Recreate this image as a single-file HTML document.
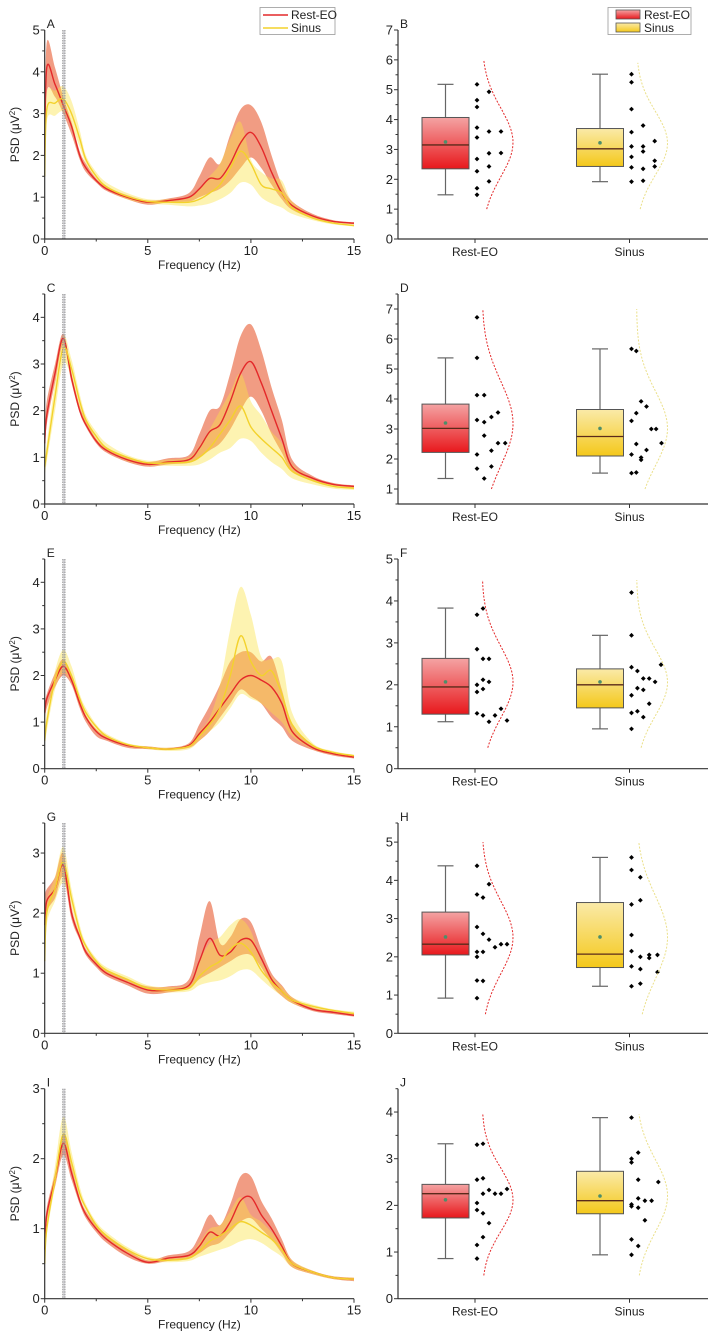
<!DOCTYPE html>
<html><head><meta charset="utf-8"><style>
html,body{margin:0;padding:0;background:#fff;}
svg{display:block;font-family:"Liberation Sans",Arial,sans-serif;}
</style></head><body>
<svg id="fig" width="716" height="1343" viewBox="0 0 716 1343" xmlns="http://www.w3.org/2000/svg">
<defs>
<linearGradient id="gRest" x1="0" y1="0" x2="0" y2="1"><stop offset="0" stop-color="#f4a3a3"/><stop offset="1" stop-color="#e8181c"/></linearGradient>
<linearGradient id="gSinus" x1="0" y1="0" x2="0" y2="1"><stop offset="0" stop-color="#faeaa8"/><stop offset="1" stop-color="#f4c81a"/></linearGradient>
</defs>
</svg>
<script>
const FREQ=[0,0.1,0.5,0.9,1.3,1.7,2,2.5,3,4,5,6,7,7.5,8,8.5,9,9.5,10,10.5,11,11.5,12,13,14,15];
// Panel A
const A_REST_MEAN=[2.0,4.1,3.7,3.2,2.7,2.0,1.7,1.4,1.2,1.0,0.88,0.92,1.0,1.2,1.45,1.45,1.8,2.3,2.55,2.2,1.6,1.1,0.8,0.55,0.42,0.38];
const A_REST_UP=[2.5,4.7,4.1,3.4,2.8,2.1,1.8,1.45,1.25,1.05,0.92,0.97,1.1,1.5,1.95,1.8,2.5,3.1,3.2,2.8,2.0,1.3,0.9,0.6,0.45,0.4];
const A_REST_LO=[1.5,3.5,3.4,3.0,2.5,1.9,1.6,1.35,1.15,0.95,0.82,0.88,0.9,1.0,1.1,1.2,1.4,1.7,1.95,1.7,1.3,0.95,0.7,0.5,0.4,0.35];
const A_SIN_MEAN=[1.5,3.1,3.25,3.35,3.0,2.4,1.9,1.5,1.25,1.02,0.9,0.88,0.88,0.95,1.1,1.3,1.7,2.1,1.8,1.3,1.2,1.1,0.75,0.5,0.38,0.32];
const A_SIN_UP=[2.0,3.5,3.55,3.65,3.3,2.6,2.0,1.6,1.35,1.1,0.95,0.95,1.0,1.2,1.5,1.8,2.4,2.8,1.9,1.6,1.45,1.4,0.9,0.55,0.42,0.35];
const A_SIN_LO=[1.0,2.8,2.95,3.05,2.7,2.2,1.8,1.45,1.2,0.95,0.85,0.82,0.78,0.8,0.85,0.95,1.1,1.35,1.3,1.0,0.85,0.75,0.6,0.45,0.35,0.3];
// Panel C
const C_REST_MEAN=[1.3,1.9,2.8,3.55,2.7,2.0,1.7,1.35,1.15,0.95,0.85,0.9,0.95,1.2,1.55,1.7,2.2,2.8,3.05,2.6,2.0,1.4,0.8,0.55,0.42,0.38];
const C_REST_UP=[1.6,2.2,3.0,3.65,2.8,2.1,1.8,1.4,1.2,1.0,0.9,0.98,1.05,1.5,2.0,2.1,2.8,3.6,3.85,3.3,2.5,1.8,0.95,0.6,0.45,0.4];
const C_REST_LO=[1.0,1.7,2.6,3.4,2.6,1.95,1.65,1.3,1.1,0.9,0.8,0.85,0.88,1.0,1.15,1.3,1.6,2.0,2.3,2.0,1.5,1.1,0.7,0.5,0.4,0.35];
const C_SIN_MEAN=[0.8,1.1,2.3,3.35,2.9,2.2,1.8,1.45,1.2,1.0,0.88,0.88,0.9,1.0,1.2,1.5,1.8,2.1,1.65,1.4,1.2,1.0,0.7,0.5,0.38,0.34];
const C_SIN_UP=[1.0,1.3,2.6,3.6,3.1,2.35,1.9,1.55,1.3,1.05,0.93,0.95,1.0,1.25,1.6,2.0,2.4,2.8,2.2,1.9,1.55,1.3,0.85,0.55,0.42,0.36];
const C_SIN_LO=[0.6,0.9,2.0,3.0,2.7,2.05,1.7,1.35,1.15,0.92,0.83,0.82,0.82,0.85,0.95,1.1,1.2,1.4,1.35,1.1,0.9,0.75,0.55,0.42,0.33,0.3];
// Panel E
const E_REST_MEAN=[1.2,1.5,1.9,2.2,1.9,1.4,1.1,0.8,0.65,0.5,0.45,0.42,0.5,0.75,1.0,1.3,1.6,1.9,2.0,1.9,1.75,1.4,0.8,0.45,0.32,0.25];
const E_REST_UP=[1.4,1.6,2.05,2.35,2.0,1.5,1.15,0.85,0.7,0.52,0.48,0.45,0.55,0.95,1.35,1.8,2.3,2.5,2.5,2.3,2.4,1.7,0.95,0.5,0.35,0.28];
const E_REST_LO=[1.0,1.3,1.75,2.0,1.8,1.3,1.0,0.7,0.6,0.45,0.42,0.4,0.45,0.6,0.8,1.1,1.4,1.7,1.55,1.4,1.1,0.9,0.6,0.4,0.28,0.22];
const E_SIN_MEAN=[0.6,1.0,1.9,2.3,2.0,1.5,1.2,0.9,0.7,0.52,0.45,0.42,0.48,0.7,0.95,1.3,2.0,2.85,2.3,2.0,2.1,1.6,0.95,0.5,0.35,0.28];
const E_SIN_UP=[0.8,1.2,2.1,2.55,2.2,1.6,1.3,0.95,0.75,0.55,0.48,0.45,0.52,0.8,1.1,1.8,3.0,3.9,3.3,2.4,2.35,2.3,1.2,0.55,0.38,0.3];
const E_SIN_LO=[0.45,0.8,1.7,2.05,1.85,1.35,1.1,0.82,0.65,0.48,0.42,0.38,0.42,0.6,0.8,1.0,1.3,1.6,1.5,1.4,1.2,1.0,0.7,0.42,0.3,0.24];
// Panel G
const G_REST_MEAN=[1.8,2.2,2.4,2.8,2.0,1.6,1.35,1.15,1.0,0.85,0.72,0.72,0.8,1.2,1.58,1.3,1.35,1.55,1.55,1.25,0.9,0.7,0.55,0.4,0.35,0.3];
const G_REST_UP=[2.3,2.4,2.6,3.0,2.1,1.65,1.4,1.2,1.05,0.9,0.78,0.78,0.9,1.6,2.2,1.5,1.6,1.9,1.85,1.4,1.0,0.8,0.6,0.43,0.37,0.33];
const G_REST_LO=[1.4,2.0,2.25,2.6,1.9,1.55,1.3,1.1,0.95,0.8,0.66,0.68,0.75,0.9,1.0,1.1,1.2,1.3,1.3,1.1,0.8,0.62,0.5,0.37,0.32,0.28];
const G_SIN_MEAN=[1.2,2.0,2.4,2.85,2.25,1.7,1.45,1.2,1.05,0.9,0.75,0.72,0.75,0.95,1.1,1.2,1.4,1.5,1.35,1.05,0.85,0.7,0.55,0.45,0.38,0.33];
const G_SIN_UP=[1.5,2.2,2.6,3.1,2.4,1.8,1.5,1.25,1.1,0.95,0.8,0.77,0.82,1.2,1.5,1.6,1.8,1.9,1.7,1.2,0.95,0.78,0.6,0.48,0.4,0.36];
const G_SIN_LO=[0.9,1.8,2.2,2.5,2.1,1.6,1.4,1.15,1.0,0.85,0.7,0.68,0.7,0.8,0.85,0.88,0.95,1.05,1.05,0.9,0.75,0.62,0.5,0.4,0.35,0.3];
// Panel I
const I_REST_MEAN=[0.7,1.2,1.7,2.22,1.8,1.4,1.2,1.0,0.85,0.65,0.52,0.58,0.62,0.75,0.95,0.9,1.1,1.4,1.45,1.2,1.0,0.75,0.5,0.38,0.3,0.28];
const I_REST_UP=[0.9,1.3,1.8,2.35,1.9,1.45,1.25,1.05,0.9,0.7,0.55,0.62,0.68,0.9,1.2,1.05,1.35,1.75,1.75,1.4,1.15,0.85,0.55,0.4,0.32,0.3];
const I_REST_LO=[0.5,1.1,1.6,2.05,1.7,1.35,1.15,0.95,0.8,0.6,0.5,0.54,0.58,0.65,0.75,0.8,0.95,1.1,1.15,1.0,0.85,0.65,0.45,0.35,0.28,0.25];
const I_SIN_MEAN=[0.5,1.0,1.7,2.35,1.95,1.5,1.3,1.05,0.9,0.7,0.57,0.55,0.58,0.68,0.82,0.9,1.0,1.1,1.05,0.95,0.85,0.7,0.5,0.38,0.3,0.28];
const I_SIN_UP=[0.6,1.1,1.9,2.6,2.1,1.6,1.35,1.1,0.95,0.74,0.6,0.58,0.62,0.8,1.0,1.05,1.25,1.45,1.2,1.1,0.95,0.78,0.55,0.4,0.32,0.3];
const I_SIN_LO=[0.4,0.9,1.6,2.15,1.85,1.45,1.25,1.0,0.85,0.66,0.54,0.52,0.54,0.6,0.65,0.7,0.75,0.82,0.85,0.8,0.7,0.6,0.45,0.35,0.28,0.26];

// Box-plot stats: [q1, median, q3, whiskerLow, whiskerHigh, mean]
const B_REST_STATS=[2.35,3.15,4.07,1.48,5.18,3.25];
const B_SIN_STATS=[2.43,3.02,3.7,1.92,5.52,3.22];
const D_REST_STATS=[2.22,3.02,3.83,1.35,5.37,3.2];
const D_SIN_STATS=[2.1,2.75,3.65,1.53,5.67,3.02];
const F_REST_STATS=[1.3,1.95,2.63,1.12,3.83,2.07];
const F_SIN_STATS=[1.45,2.0,2.38,0.95,3.18,2.07];
const H_REST_STATS=[2.05,2.33,3.17,0.92,4.38,2.52];
const H_SIN_STATS=[1.72,2.07,3.42,1.23,4.6,2.52];
const J_REST_STATS=[1.73,2.25,2.45,0.86,3.32,2.12];
const J_SIN_STATS=[1.82,2.1,2.73,0.94,3.88,2.2];
// individual points: values and dodge-column index
const B_REST_VALS=[5.18,4.65,4.42,3.73,3.4,2.68,2.27,1.7,1.48,4.93,3.6,2.87,2.43,1.93,3.6,2.88];
const B_REST_COLS=[0,0,0,0,0,0,0,0,0,2,2,2,2,2,4,4];
const B_SIN_VALS=[5.52,5.25,4.35,3.58,3.1,2.75,2.4,1.92,3.8,3.1,2.93,2.35,1.95,3.28,2.62,2.43];
const B_SIN_COLS=[0,0,0,0,0,0,0,0,2,2,2,2,2,4,4,4];
const D_REST_VALS=[6.72,5.37,4.13,3.3,2.15,1.68,4.13,3.23,2.78,1.35,3.4,2.28,1.75,3.55,2.53,2.53];
const D_REST_COLS=[0,0,0,0,0,0,1.2,1.2,1.2,1.2,2.4,2.4,2.4,3.5,3.5,4.7];
const D_SIN_VALS=[5.67,3.27,2.15,1.53,5.6,3.53,2.5,1.55,3.92,2.05,1.97,3.75,2.3,3.0,3.0,2.53];
const D_SIN_COLS=[0,0,0,0,0.8,0.8,0.8,0.8,1.6,1.6,1.6,2.5,2.5,3.3,4.1,5.0];
const F_REST_VALS=[3.67,2.85,2.0,1.83,1.32,3.82,2.62,2.12,1.9,1.27,2.62,2.07,1.12,1.27,1.43,1.15];
const F_REST_COLS=[0,0,0,0,0,1,1,1,1,1,2,2,2,3,4,5];
const F_SIN_VALS=[4.2,3.18,2.42,1.75,1.33,0.95,2.33,1.92,1.37,2.15,1.88,1.23,2.15,1.55,2.07,2.48];
const F_SIN_COLS=[0,0,0,0,0,0,1,1,1,2,2,2,3,3,4,5];
const H_REST_VALS=[4.38,3.63,2.78,2.13,2.0,1.38,0.92,3.55,2.6,2.13,1.37,3.9,2.45,2.25,2.33,2.33];
const H_REST_COLS=[0,0,0,0,0,0,0,1,1,1,1,2,2,3,4,5];
const H_SIN_VALS=[4.6,4.27,3.37,2.57,2.15,1.75,1.23,4.08,3.48,2.0,1.68,1.3,2.05,1.97,2.05,1.6];
const H_SIN_COLS=[0,0,0,0,0,0,0,1.5,1.5,1.5,1.5,1.5,3,3,4.4,4.4];
const J_REST_VALS=[3.3,2.55,2.05,1.9,1.15,0.86,3.32,2.58,2.25,1.83,1.32,2.33,1.62,2.25,2.25,2.35];
const J_REST_COLS=[0,0,0,0,0,0,1,1,1,1,1,2,2,3,4,5];
const J_SIN_VALS=[3.88,3.0,2.92,2.02,1.98,1.27,0.94,3.13,2.55,2.15,1.95,1.13,2.1,1.68,2.1,2.5];
const J_SIN_COLS=[0,0,0,0,0,0,0,1,1,1,1,1,2,2,3,4];
const CATEGORIES=["Rest-EO","Sinus"];
const FREQ_TICKS=[0,5,10,15];

const NS="http://www.w3.org/2000/svg";
const svg=document.getElementById('fig');
function mk(tag,attrs,parent,text){const e=document.createElementNS(NS,tag);for(const k in attrs)e.setAttribute(k,attrs[k]);if(text!==undefined)e.textContent=text;(parent||svg).appendChild(e);return e;}
function crPath(pts){let d='M'+pts[0][0].toFixed(2)+','+pts[0][1].toFixed(2);for(let i=0;i<pts.length-1;i++){const p0=pts[i-1]||pts[i],p1=pts[i],p2=pts[i+1],p3=pts[i+2]||p2;const c1=[p1[0]+(p2[0]-p0[0])/6,p1[1]+(p2[1]-p0[1])/6];const c2=[p2[0]-(p3[0]-p1[0])/6,p2[1]-(p3[1]-p1[1])/6];d+=' C'+c1[0].toFixed(2)+','+c1[1].toFixed(2)+' '+c2[0].toFixed(2)+','+c2[1].toFixed(2)+' '+p2[0].toFixed(2)+','+p2[1].toFixed(2);}return d;}

const LX0=44.7,LX1=354;
const RX0=398,RX1=708;
const leftPanels=[
 {id:'A',top:30,bot:239,ymin:0,ymax:5,ticks:[0,1,2,3,4,5],d:[A_REST_MEAN,A_REST_UP,A_REST_LO,A_SIN_MEAN,A_SIN_UP,A_SIN_LO],legend:true},
 {id:'C',top:294,bot:504,ymin:0,ymax:4.5,ticks:[0,1,2,3,4],d:[C_REST_MEAN,C_REST_UP,C_REST_LO,C_SIN_MEAN,C_SIN_UP,C_SIN_LO]},
 {id:'E',top:559,bot:768.7,ymin:0,ymax:4.5,ticks:[0,1,2,3,4],d:[E_REST_MEAN,E_REST_UP,E_REST_LO,E_SIN_MEAN,E_SIN_UP,E_SIN_LO]},
 {id:'G',top:823,bot:1033.3,ymin:0,ymax:3.5,ticks:[0,1,2,3],d:[G_REST_MEAN,G_REST_UP,G_REST_LO,G_SIN_MEAN,G_SIN_UP,G_SIN_LO]},
 {id:'I',top:1088.7,bot:1298.7,ymin:0,ymax:3,ticks:[0,1,2,3],d:[I_REST_MEAN,I_REST_UP,I_REST_LO,I_SIN_MEAN,I_SIN_UP,I_SIN_LO]}
];
const rightPanels=[
 {id:'B',top:30,bot:239,ymin:0,ymax:7,ticks:[0,1,2,3,4,5,6,7],rs:B_REST_STATS,ss:B_SIN_STATS,rv:B_REST_VALS,rc:B_REST_COLS,sv:B_SIN_VALS,sc:B_SIN_COLS,rstep:6,sstep:5.8,cr:[1,6],cs:[1,5.9],legend:true},
 {id:'D',top:294,bot:504,ymin:0.5,ymax:7.5,ticks:[1,2,3,4,5,6,7],rs:D_REST_STATS,ss:D_SIN_STATS,rv:D_REST_VALS,rc:D_REST_COLS,sv:D_SIN_VALS,sc:D_SIN_COLS,rstep:6,sstep:6,cr:[1,7],cs:[1,7]},
 {id:'F',top:559,bot:768.7,ymin:0,ymax:5,ticks:[0,1,2,3,4,5],rs:F_REST_STATS,ss:F_SIN_STATS,rv:F_REST_VALS,rc:F_REST_COLS,sv:F_SIN_VALS,sc:F_SIN_COLS,rstep:6,sstep:5.9,cr:[0.5,4.5],cs:[0.5,4.5]},
 {id:'H',top:823,bot:1033.3,ymin:0,ymax:5.5,ticks:[0,1,2,3,4,5],rs:H_REST_STATS,ss:H_SIN_STATS,rv:H_REST_VALS,rc:H_REST_COLS,sv:H_SIN_VALS,sc:H_SIN_COLS,rstep:6,sstep:5.9,cr:[0.5,5],cs:[0.5,5]},
 {id:'J',top:1088.7,bot:1298.7,ymin:0,ymax:4.5,ticks:[0,1,2,3,4],rs:J_REST_STATS,ss:J_SIN_STATS,rv:J_REST_VALS,rc:J_REST_COLS,sv:J_SIN_VALS,sc:J_SIN_COLS,rstep:6,sstep:6.7,cr:[0.5,3.95],cs:[0.5,3.95]}
];

function yAxis(p,x0,g){
  const ys=v=>p.bot-(v-p.ymin)/(p.ymax-p.ymin)*(p.bot-p.top);
  const ax=mk('line',{x1:x0,y1:p.top,x2:x0,y2:p.bot,stroke:'#333','stroke-width':1.2},g);
  
  for(let v=Math.ceil(p.ymin*2)/2;v<=p.ymax+1e-6;v+=0.5){
    const major=Math.abs(v-Math.round(v))<1e-6;
    mk('line',{x1:x0-(major?4:2.5),y1:ys(v),x2:x0,y2:ys(v),stroke:'#333','stroke-width':1},g);
  }
  p.ticks.forEach(v=>{const t=mk('text',{x:x0-5,y:ys(v)+4.5,'text-anchor':'end','font-size':13,fill:'#222'},g,String(v));
    });
  return ys;
}

leftPanels.forEach(p=>{
  const g=mk('g',{});
  
  
  const xs=f=>LX0+f/15*(LX1-LX0);
  const ys=v=>p.bot-(v-p.ymin)/(p.ymax-p.ymin)*(p.bot-p.top);
  const series=[{m:p.d[0],u:p.d[1],l:p.d[2],fill:'rgba(233,95,55,0.62)',line:'#e4292a',name:'rest-eo'},
                {m:p.d[3],u:p.d[4],l:p.d[5],fill:'rgba(250,226,70,0.42)',line:'#f3d22c',name:'sinus'}];
  series.forEach(s=>{
    const up=FREQ.map((f,i)=>[xs(f),ys(s.u[i])]);
    const lo=FREQ.map((f,i)=>[xs(f),ys(s.l[i])]).reverse();
    const d=crPath(up)+' L'+crPath(lo).slice(1)+' Z';
    const b=mk('path',{d:d,fill:s.fill,stroke:'none'},g);
    
  });
  series.forEach(s=>{
    const pts=FREQ.map((f,i)=>[xs(f),ys(s.m[i])]);
    const l=mk('path',{d:crPath(pts),fill:'none',stroke:s.line,'stroke-width':1.4},g);
    
  });
  // stimulation marker
  [0.88,0.98].forEach(f=>{const v=mk('line',{x1:xs(f),y1:p.top,x2:xs(f),y2:p.bot,stroke:'#888','stroke-width':1,'stroke-dasharray':'1.5,1'},g);
    });
  mk('rect',{x:xs(0.88),y:p.top,width:xs(0.98)-xs(0.88),height:p.bot-p.top,fill:'rgba(160,160,170,0.35)'},g);
  yAxis(p,LX0,g);
  const xa=mk('line',{x1:LX0,y1:p.bot,x2:LX1,y2:p.bot,stroke:'#333','stroke-width':1.2},g);
  
  [0,2.5,5,7.5,10,12.5,15].forEach(f=>mk('line',{x1:xs(f),y1:p.bot,x2:xs(f),y2:p.bot+(f%5===0?4:2.5),stroke:'#333'},g));
  FREQ_TICKS.forEach(f=>{const t=mk('text',{x:xs(f),y:p.bot+16,'text-anchor':'middle','font-size':13,fill:'#222'},g,String(f));
    });
  const xt=mk('text',{x:(LX0+LX1)/2,y:p.bot+30,'text-anchor':'middle','font-size':12,fill:'#222'},g,'Frequency (Hz)');
  
  const cy=(p.top+p.bot)/2;
  const yt=mk('text',{x:19,y:cy,'text-anchor':'middle','font-size':12,fill:'#222',transform:'rotate(-90 19 '+cy+')'},g);
  
  yt.textContent='PSD (μV';const sp=mk('tspan',{'font-size':8,dy:-4},yt,'2');mk('tspan',{dy:4},yt,')');
  const lb=mk('text',{x:LX0+2,y:p.top-2,'font-size':12,fill:'#222'},g,p.id);
  
  if(p.legend){
    const lg=mk('g',{},g);
    mk('rect',{x:260,y:7.5,width:75,height:27,fill:'#fff',stroke:'#999','stroke-width':0.8},lg);
    mk('line',{x1:263,y1:15,x2:288,y2:15,stroke:'#e4292a','stroke-width':1.5},lg);
    mk('text',{x:291,y:19,'font-size':12,fill:'#222'},lg,'Rest-EO');
    mk('line',{x1:263,y1:28,x2:288,y2:28,stroke:'#f3d22c','stroke-width':1.5},lg);
    mk('text',{x:291,y:32,'font-size':12,fill:'#222'},lg,'Sinus');
  }
});

rightPanels.forEach(p=>{
  const g=mk('g',{});
  
  
  const ys=yAxis(p,RX0,g);
  const xa=mk('line',{x1:RX0,y1:p.bot,x2:RX1,y2:p.bot,stroke:'#333','stroke-width':1.2},g);
  
  const catX=[475,629.5];
  const groups=[{s:p.rs,v:p.rv,c:p.rc,step:p.rstep,fill:'url(#gRest)',curve:'#e4292a',rng:p.cr,name:'rest-eo'},
                {s:p.ss,v:p.sv,c:p.sc,step:p.sstep,fill:'url(#gSinus)',curve:'#ebe08a',rng:p.cs,name:'sinus'}];
  groups.forEach((gr,k)=>{
    const cx=catX[k];
    mk('line',{x1:cx,y1:p.bot,x2:cx,y2:p.bot+4,stroke:'#333'},g);
    const tl=mk('text',{x:cx,y:p.bot+17,'text-anchor':'middle','font-size':12,fill:'#222'},g,CATEGORIES[k]);
    
    const bc=cx-29.5,bw=47;
    const [q1,med,q3,lo,hi,mean]=gr.s;
    mk('line',{x1:bc,y1:ys(hi),x2:bc,y2:ys(q3),stroke:'#666','stroke-width':1.2},g);
    mk('line',{x1:bc,y1:ys(lo),x2:bc,y2:ys(q1),stroke:'#666','stroke-width':1.2},g);
    mk('line',{x1:bc-8,y1:ys(hi),x2:bc+8,y2:ys(hi),stroke:'#666','stroke-width':1.2},g);
    mk('line',{x1:bc-8,y1:ys(lo),x2:bc+8,y2:ys(lo),stroke:'#666','stroke-width':1.2},g);
    const box=mk('rect',{x:bc-bw/2,y:ys(q3),width:bw,height:ys(q1)-ys(q3),fill:gr.fill,stroke:'#555','stroke-width':1},g);
    
    mk('line',{x1:bc-bw/2,y1:ys(med),x2:bc+bw/2,y2:ys(med),stroke:'#5a2a1a','stroke-width':1.3},g);
    const md=mk('circle',{cx:bc,cy:ys(mean),r:1.8,fill:'#4e8e6a'},g);
    
    gr.v.forEach((v,i)=>{
      const x=cx+2+gr.c[i]*gr.step,y=ys(v);
      const pt=mk('path',{d:`M${x},${y-2.4} L${x+2.4},${y} L${x},${y+2.4} L${x-2.4},${y} Z`,fill:'#000'},g);
      
    });
    // normal distribution curve from data mean / sd
    const n=gr.v.length,mu=gr.v.reduce((a,b)=>a+b,0)/n;
    const sd=Math.sqrt(gr.v.reduce((a,b)=>a+(b-mu)*(b-mu),0)/(n-1));
    const pts=[];
    for(let j=0;j<=60;j++){const v=gr.rng[0]+(gr.rng[1]-gr.rng[0])*j/60;const z=(v-mu)/sd;pts.push([cx+7+31*Math.exp(-z*z/2),ys(v)]);}
    const cv=mk('polyline',{points:pts.map(q=>q[0].toFixed(1)+','+q[1].toFixed(1)).join(' '),fill:'none',stroke:gr.curve,'stroke-width':1,'stroke-dasharray':'2,1.5'},g);
    
  });
  const lb=mk('text',{x:RX0+2,y:p.top-2,'font-size':12,fill:'#222'},g,p.id);
  
  if(p.legend){
    const lg=mk('g',{},g);
    mk('rect',{x:608,y:7.5,width:83,height:27,fill:'#fff',stroke:'#999','stroke-width':0.8},lg);
    mk('rect',{x:616,y:10,width:24,height:9,fill:'url(#gRest)',stroke:'#555','stroke-width':0.8},lg);
    mk('text',{x:644,y:19,'font-size':12,fill:'#222'},lg,'Rest-EO');
    mk('rect',{x:616,y:23,width:24,height:9,fill:'url(#gSinus)',stroke:'#555','stroke-width':0.8},lg);
    mk('text',{x:644,y:32,'font-size':12,fill:'#222'},lg,'Sinus');
  }
});
</script>
</body></html>
